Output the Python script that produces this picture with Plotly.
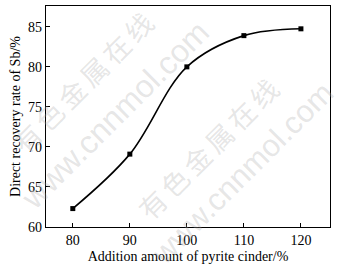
import plotly.graph_objects as go

addition = [80, 90, 100, 110, 120]
recovery = [62.3, 69.1, 80.0, 83.9, 84.75]

x_ticks = [80, 90, 100, 110, 120]
y_ticks = [60, 65, 70, 75, 80, 85]

W, H = 340, 278
L, R, T, B = 46, 10, 6, 51

fig = go.Figure()
fig.add_trace(go.Scatter(
    x=addition, y=recovery, mode="lines+markers",
    line=dict(color="black", width=1.6, shape="spline", smoothing=1.0),
    marker=dict(symbol="square", size=5, color="black"),
    showlegend=False,
))

font_serif = "Liberation Serif, Times New Roman, serif"

def paper(px, py):
    return (px - L) / (W - L - R), (H - B - py) / (H - T - B)

cn = "\u2006".join("有色金属在线")
wm = [
    (cn, 82, 82, 27, "Noto Sans CJK SC"),
    ("www.cnnmol.com", 115, 115, 32, "Liberation Sans, Arial, sans-serif"),
    (cn, 208, 149, 27, "Noto Sans CJK SC"),
    ("www.cnnmol.com", 242, 173, 31, "Liberation Sans, Arial, sans-serif"),
]
for txt, px, py, sz, fam in wm:
    xp, yp = paper(px, py)
    fig.add_annotation(
        x=xp, y=yp, xref="paper", yref="paper", text=txt, showarrow=False,
        xanchor="center", yanchor="middle",
        textangle=-45, font=dict(size=sz, color="rgba(170,170,170,0.3)", family=fam),
    )

fig.update_layout(
    width=W, height=H,
    margin=dict(l=L, r=R, t=T, b=B),
    paper_bgcolor="white", plot_bgcolor="white",
    font=dict(family=font_serif, size=14, color="black"),
    xaxis=dict(
        range=[75.3, 125.1], tickvals=x_ticks, ticks="inside", ticklen=4,
        tickcolor="black", showline=True, linecolor="black", linewidth=1.2,
        mirror=True, showgrid=False, zeroline=False,
        title=dict(text="Addition amount of pyrite cinder/%", standoff=4,
                   font=dict(size=14, family=font_serif)),
        tickfont=dict(size=14, family=font_serif),
    ),
    yaxis=dict(
        range=[60, 87.6], tickvals=y_ticks, ticks="inside", ticklen=4,
        tickcolor="black", showline=True, linecolor="black", linewidth=1.2,
        mirror=True, showgrid=False, zeroline=False,
        title=dict(text="Direct recovery rate of Sb/%", standoff=4,
                   font=dict(size=14, family=font_serif)),
        tickfont=dict(size=14, family=font_serif),
    ),
)

fig.write_html("out.html")
